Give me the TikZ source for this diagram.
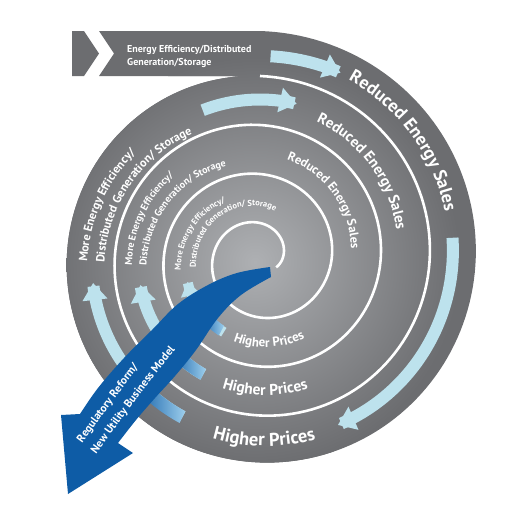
\documentclass[tikz,border=0pt]{standalone}
\usepackage{fontspec}
\setmainfont{PT Sans}
\usetikzlibrary{decorations.text,arrows.meta}
\definecolor{greyD}{HTML}{6C6D70}
\definecolor{greyL}{HTML}{AEB0B3}
\definecolor{lblue}{HTML}{BDE2ED}
\definecolor{dblue}{HTML}{0E5CA6}
\definecolor{rblue}{HTML}{9CCDEB}
\newcommand\myRA{\color{white}\bfseries\fontsize{18}{18}\selectfont}
\newcommand\myRB{\color{white}\bfseries\fontsize{15}{15}\selectfont}
\newcommand\myRC{\color{white}\bfseries\fontsize{12.5}{12.5}\selectfont}
\newcommand\myHA{\color{white}\bfseries\fontsize{18.5}{18.5}\selectfont}
\newcommand\myHB{\color{white}\bfseries\fontsize{15.5}{15.5}\selectfont}
\newcommand\myHC{\color{white}\bfseries\fontsize{13}{13}\selectfont}
\newcommand\myLA{\color{white}\bfseries\fontsize{12}{12}\selectfont}
\newcommand\myLB{\color{white}\bfseries\fontsize{10}{10}\selectfont}
\newcommand\myLC{\color{white}\bfseries\fontsize{8.5}{8.5}\selectfont}
\newcommand\myArr{\color{white}\bfseries\fontsize{11.2}{11.2}\selectfont}
\newcommand\myBan{\bfseries\fontsize{10}{10}\selectfont}
\tikzset{
  curvetext/.style={decorate, decoration={text along path, text align=center, text={#1}}},
  curvetextL/.style={decorate, decoration={text along path, text align=left, text={#1}}},
  lbarrow/.style={lblue, line width=#1, -{Triangle[length=17pt,width=24pt]}},
  lbarrowsm/.style={lblue, line width=#1, -{Triangle[length=14pt,width=19pt]}},
  bantext/.style={anchor=base west, inner sep=0pt, text=white, font=\myBan},
}
\begin{document}
\begin{tikzpicture}[x=1pt,y=-1pt]
\useasboundingbox (0,0) rectangle (508,525);
% grey spiral disc with banner
\fill[greyD] (99,31) -- (260,31) -- plot[domain=0:360,samples=181,variable=\t] ({260+(227-0.125*\t)*sin(\t)},{258-(227-0.125*\t)*cos(\t)}) -- (99,76) -- (114,53.5) -- cycle;
\begin{scope}
\clip (99,31) -- (260,31) -- plot[domain=0:360,samples=181,variable=\t] ({260+(227-0.125*\t)*sin(\t)},{258-(227-0.125*\t)*cos(\t)}) -- (99,76) -- (114,53.5) -- cycle;
\shade[inner color=greyL, outer color=greyD] (255,262) circle (205);
\end{scope}
\fill[greyD] (72,31) -- (84,31) -- (99,53.5) -- (84,76) -- (72,76) -- cycle;
% white spiral line
\draw[white, line width=2.6] plot[domain=0:1200,samples=500,variable=\t] ({260+(182-0.136111*\t)*sin(\t)},{258-(182-0.136111*\t)*cos(\t)});
% banner text
\node[bantext] (ban1) at (127,52.5) {Energy Efficiency/Distributed};
\node[bantext] (ban2) at (127,65.8) {Generation/Storage};
% Reduced Energy Sales
\path[curvetext={|\myRA|Reduced Energy Sales}] plot[domain=14:89,samples=80,variable=\t] ({260+(199-0.166*(\t-25.4))*sin(\t)},{258-(199-0.166*(\t-25.4))*cos(\t)});
\path[curvetext={|\myRB|Reduced Energy Sales}] plot[domain=8:94,samples=80,variable=\t] ({260+(148-0.153*(\t-21))*sin(\t)},{258-(148-0.153*(\t-21))*cos(\t)});
\path[curvetext={|\myRC|Reduced Energy Sales}] plot[domain=-2:104,samples=80,variable=\t] ({260+(102.5-0.16*(\t-14.7))*sin(\t)},{258-(102.5-0.16*(\t-14.7))*cos(\t)});
% Higher Prices
\path[curvetext={|\myHA|Higher Prices}] plot[domain=210:148,samples=60,variable=\t] ({260+(188-0.1*(\t-180))*sin(\t)},{258-(188-0.1*(\t-180))*cos(\t)});
\path[curvetext={|\myHB|Higher Prices}] plot[domain=213:143.5,samples=60,variable=\t] ({260+(137-0.1*(\t-180))*sin(\t)},{258-(137-0.1*(\t-180))*cos(\t)});
\path[curvetext={|\myHC|Higher Prices}] plot[domain=220:130.2,samples=60,variable=\t] ({260+(89-0.1*(\t-180))*sin(\t)},{258-(89-0.1*(\t-180))*cos(\t)});
% More Energy Efficiency texts
\path[curvetext={|\myLA|More Energy Efficiency/}] plot[domain=255:325,samples=70,variable=\t] ({260+(173-0.25*(\t-268))*sin(\t)},{258-(173-0.25*(\t-268))*cos(\t)});
\path[curvetext={|\myLA|Distributed Generation/ Storage}] plot[domain=257:344,samples=80,variable=\t] ({260+(156-0.224*(\t-267))*sin(\t)},{258-(156-0.224*(\t-267))*cos(\t)});
\path[curvetext={|\myLB|More Energy Efficiency/}] plot[domain=251:331,samples=70,variable=\t] ({260+(128.5-0.2*(\t-266))*sin(\t)},{258-(128.5-0.2*(\t-266))*cos(\t)});
\path[curvetext={|\myLB|Distributed Generation/ Storage}] plot[domain=250:359.3,samples=80,variable=\t] ({260+(114-0.221*(\t-265.6))*sin(\t)},{258-(114-0.221*(\t-265.6))*cos(\t)});
\path[curvetext={|\myLC|More Energy Efficiency/}] plot[domain=245:349,samples=70,variable=\t] ({260+(79.8-0.22*(\t-263))*sin(\t)},{258-(79.8-0.22*(\t-263))*cos(\t)});
\path[curvetext={|\myLC|Distributed Generation/ Storage}] plot[domain=245:400.6,samples=90,variable=\t] ({260+(65-0.135*(\t-260))*sin(\t)},{258-(65-0.135*(\t-260))*cos(\t)});
% light blue arrows
\draw[lbarrow=12] plot[domain=3:23.5,samples=30,variable=\t] ({260+202*sin(\t)},{258-202*cos(\t)});
\draw[lbarrow=12] plot[domain=-21.2:13.4,samples=40,variable=\t] ({260+158.5*sin(\t)},{258-158.5*cos(\t)});
\draw[lbarrow=12] plot[domain=84:155,samples=60,variable=\t] ({260+(204.5-0.130556*\t)*sin(\t)},{258-(204.5-0.130556*\t)*cos(\t)});
\draw[lbarrow=12] plot[domain=206:261.5,samples=50,variable=\t] ({260+(175-0.14*(\t-217))*sin(\t)},{258-(175-0.14*(\t-217))*cos(\t)});
\draw[lbarrow=12] plot[domain=206:257.3,samples=50,variable=\t] ({260+(157.5-0.136*\t)*sin(\t)},{258-(157.5-0.136*\t)*cos(\t)});
\draw[lbarrowsm=10] plot[domain=206:251.8,samples=50,variable=\t] ({260+(110.5-0.136*\t)*sin(\t)},{258-(110.5-0.136*\t)*cos(\t)});
% ribbons
\shade[left color=dblue, right color=rblue] plot[domain=224:206,samples=20,variable=\t] ({260+(182-0.14*(\t-217))*sin(\t)},{258-(182-0.14*(\t-217))*cos(\t)}) -- plot[domain=206:224,samples=20,variable=\t] ({260+(169-0.14*(\t-217))*sin(\t)},{258-(169-0.14*(\t-217))*cos(\t)}) -- cycle;
\shade[left color=dblue, right color=rblue] plot[domain=224:206,samples=20,variable=\t] ({260+(163.5-0.136*\t)*sin(\t)},{258-(163.5-0.136*\t)*cos(\t)}) -- plot[domain=206:224,samples=20,variable=\t] ({260+(151.5-0.136*\t)*sin(\t)},{258-(151.5-0.136*\t)*cos(\t)}) -- cycle;
\shade[left color=dblue, right color=rblue] plot[domain=226:208,samples=20,variable=\t] ({260+(116-0.136*\t)*sin(\t)},{258-(116-0.136*\t)*cos(\t)}) -- plot[domain=208:226,samples=20,variable=\t] ({260+(105-0.136*\t)*sin(\t)},{258-(105-0.136*\t)*cos(\t)}) -- cycle;
% big blue arrow
\fill[dblue] plot[smooth,tension=0.6] coordinates {(270,267) (237,273) (208,285) (178,304) (152,330) (124,358) (98,388) (80,414)} -- (61,415) -- (68,494) -- (133,453) -- plot[smooth,tension=0.6] coordinates {(118,443) (136,420) (155,398) (175,376) (196,350) (218,318) (241,295) (271,277)} -- cycle;
\path[curvetextL={|\myArr|Regulatory Reform/}] (82,443) .. controls (102,416) and (122,388) .. (152,350);
\path[curvetextL={|\myArr|New Utility Business Model}] (96,454) .. controls (120,422) and (145,385) .. (192,330);
\end{tikzpicture}
\end{document}
